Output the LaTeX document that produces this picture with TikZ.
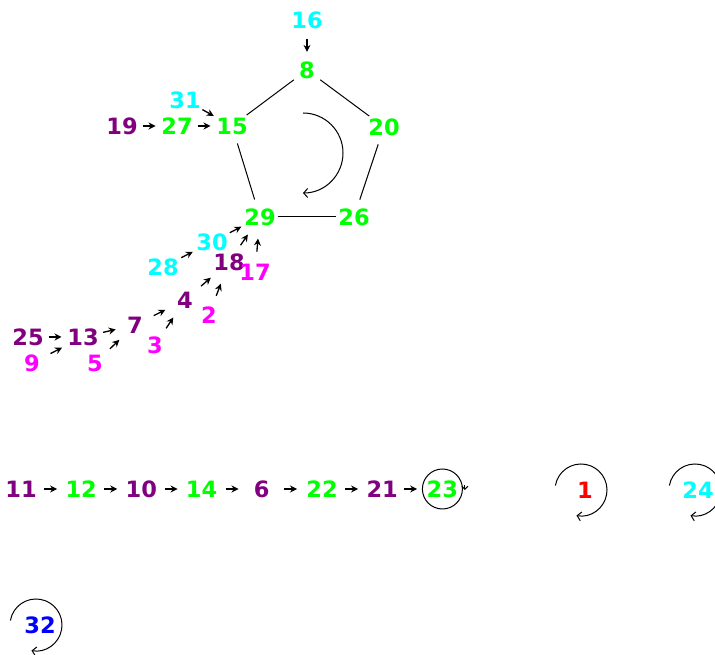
\documentclass[tikz,border=0pt]{standalone}
\usepackage{fontspec}
\setmainfont{DejaVu Sans}
\usepackage{xcolor}
\usetikzlibrary{arrows.meta, positioning, decorations.markings}
\definecolor{vpurple}{RGB}{128,0,128}
\definecolor{vgreen}{RGB}{0,255,0}
\definecolor{vcyan}{RGB}{0,255,255}
\definecolor{vmagenta}{RGB}{255,0,255}
\definecolor{vred}{RGB}{255,0,0}
\definecolor{vblue}{RGB}{0,0,255}

\begin{document}
\begin{tikzpicture}[x=1pt, y=1pt, line width=1pt, vtx/.style={circle, inner sep=0pt, minimum size=32pt, font=\fontsize{22.5}{23}\selectfont\bfseries}, pu/.style={vtx, text=vpurple}, gr/.style={vtx, text=vgreen}, cy/.style={vtx, text=vcyan}, mg/.style={vtx, text=vmagenta}, stub/.style={decoration={markings, mark=at position 0.5 with {\draw [line width=1.3pt, -{Stealth[length=7pt, width=7pt]}] (-7,0) -- (6,0);}}, postaction={decorate}}, selfloop/.style={-{Straight Barb[length=4pt, width=9pt]}}]
\clip (0,0) rectangle (715,655);
\node [cy] (n16) at (307,635) {16};
\node [gr] (n8) at (307,585) {8};
\node [gr] (n15) at (232,529) {15};
\node [gr] (n20) at (384,528) {20};
\node [gr] (n29) at (260,438) {29};
\node [gr] (n26) at (354,438) {26};
\node [cy] (n31) at (185,555) {31};
\node [gr] (n27) at (177,529) {27};
\node [pu] (n19) at (122,529) {19};
\node [cy] (n30) at (212,413) {30};
\node [cy] (n28) at (163,388) {28};
\node [pu] (n18) at (229,393) {18};
\node [mg] (n17) at (255,383) {17};
\node [pu] (n4) at (185,355) {4};
\node [mg] (n2) at (209,340) {2};
\node [pu] (n7) at (135,330) {7};
\node [mg] (n3) at (155,310) {3};
\node [pu] (n13) at (83,318) {13};
\node [pu] (n25) at (28,318) {25};
\node [mg] (n9) at (32,292) {9};
\node [mg] (n5) at (95,292) {5};
\node [pu] (n11) at (21,166) {11};
\node [gr, right of=n11, node distance=60.2pt] (n12) {12};
\node [pu, right of=n12, node distance=60.2pt] (n10) {10};
\node [gr, right of=n10, node distance=60.2pt] (n14) {14};
\node [pu, right of=n14, node distance=60.2pt] (n6) {6};
\node [gr, right of=n6, node distance=60.2pt] (n22) {22};
\node [pu, right of=n22, node distance=60.2pt] (n21) {21};
\node [gr, draw=black, minimum size=40pt, right of=n21, node distance=60.2pt] (n23) {23};
\node [vtx, text=vred] (n1) at (585,165) {1};
\node [cy] (n24) at (698,165) {24};
\node [vtx, text=vblue] (n32) at (40,30) {32};
\coordinate (ring) at (303,502);
\draw (n8) -- (n15);
\draw (n8) -- (n20);
\draw (n15) -- (n29);
\draw (n20) -- (n26);
\draw (n29) -- (n26);
\draw [selfloop] (ring) ++(90:40) arc [start angle=90, end angle=-90, radius=40];
\path [stub] (n16) -- (n8);
\path [stub] (n19) -- (n27);
\path [stub] (n27) -- (n15);
\path [stub] (n31) -- (n15);
\path [stub] (n30) -- (n29);
\path [stub] (n18) -- (n29);
\path [stub] (n17) -- (n29);
\path [stub] (n28) -- (n30);
\path [stub] (n4) -- (n18);
\path [stub] (n2) -- (n18);
\path [stub] (n7) -- (n4);
\path [stub] (n3) -- (n4);
\path [stub] (n13) -- (n7);
\path [stub] (n5) -- (n7);
\path [stub] (n25) -- (n13);
\path [stub] (n9) -- (n13);
\path [stub] (n11) -- (n12);
\path [stub] (n12) -- (n10);
\path [stub] (n10) -- (n14);
\path [stub] (n14) -- (n6);
\path [stub] (n6) -- (n22);
\path [stub] (n22) -- (n21);
\path [stub] (n21) -- (n23);
\draw [-{Straight Barb[length=3pt, width=6pt]}] ([xshift=2pt, yshift=4pt]n23.east) -- ([xshift=2pt, yshift=-1pt]n23.east);
\draw [selfloop] ([xshift=-4pt]n1.center) ++(170:26) arc [start angle=170, end angle=-100, radius=26];
\draw [selfloop] ([xshift=-3pt]n24.center) ++(170:26) arc [start angle=170, end angle=-100, radius=26];
\draw [selfloop] ([xshift=-4pt]n32.center) ++(170:26) arc [start angle=170, end angle=-100, radius=26];
\end{tikzpicture}
\end{document}
